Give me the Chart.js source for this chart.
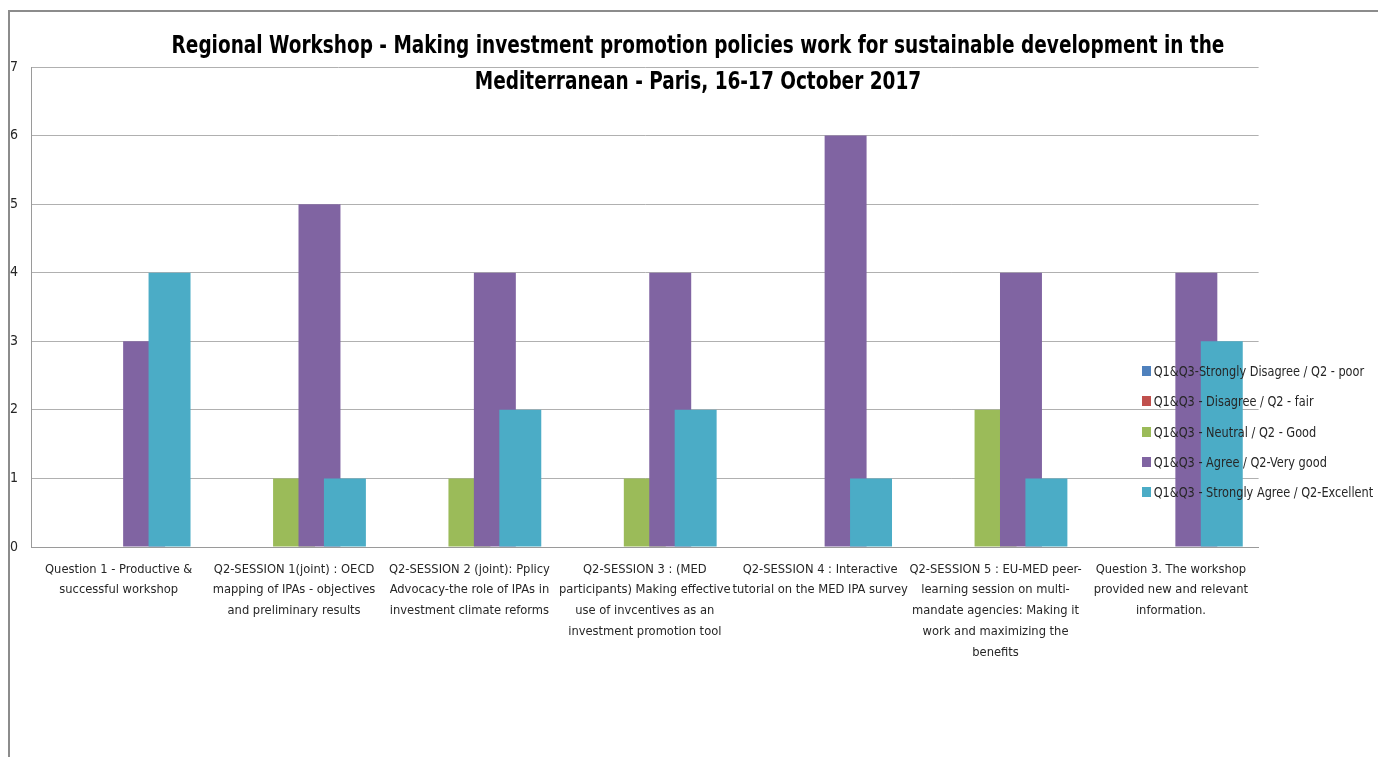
<!DOCTYPE html>
<html>
<head>
<meta charset="utf-8">
<script src="https://cdn.jsdelivr.net/npm/chart.js@4.4.1/dist/chart.umd.min.js"></script>
<style>
    html, body { margin: 0; padding: 0; background: #fff; overflow: hidden; }
    body { width: 1378px; height: 757px; position: relative; font-family: 'DejaVu Sans Condensed', 'Liberation Sans', sans-serif; }
    #frame { position: absolute; left: 8px; top: 10px; width: 1400px; height: 800px; border-left: 2px solid #8c8c8c; border-top: 2px solid #8c8c8c; }
    #chartBox { position: absolute; left: 0; top: 0; width: 1378px; height: 757px; }
    #title { position: absolute; left: 0; width: 1396px; top: 27px; text-align: center; font-weight: bold; font-size: 24px; line-height: 36px; color: #000; transform: scaleX(0.856); transform-origin: 698px 0; }
    #legend { position: absolute; left: 1142px; top: 361px; font-size: 14px; color: #262626; transform: scaleX(0.9); transform-origin: 0 0; }
    #legend div { height: 30.3px; line-height: 20px; white-space: nowrap; }
    #legend span.box { display: inline-block; width: 10px; height: 10px; margin-right: 3px; vertical-align: 0px; }
</style>
</head>
<body>
<div id="frame"></div>
<div id="chartBox"><canvas id="surveyChart" width="1378" height="757"></canvas></div>
<div id="title">Regional Workshop - Making investment promotion policies work for sustainable development in the<br>Mediterranean - Paris, 16-17 October 2017</div>
<div id="legend"></div>
<script>
// categories (already split into lines as in the picture)
const categories = [
    ['Question 1 - Productive &', 'successful workshop'],
    ['Q2-SESSION 1(joint) : OECD', 'mapping of IPAs - objectives', 'and preliminary results'],
    ['Q2-SESSION 2 (joint): Pplicy', 'Advocacy-the role of IPAs in', 'investment climate reforms'],
    ['Q2-SESSION 3 : (MED', 'participants) Making effective', 'use of invcentives as an', 'investment promotion tool'],
    ['Q2-SESSION 4 : Interactive', 'tutorial on the MED IPA survey'],
    ['Q2-SESSION 5 : EU-MED peer-', 'learning session on multi-', 'mandate agencies: Making it', 'work and maximizing the', 'benefits'],
    ['Question 3. The workshop', 'provided new and relevant', 'information.']
];

const seriesNames = [
    'Q1&Q3-Strongly Disagree / Q2 - poor',
    'Q1&Q3 - Disagree / Q2 - fair',
    'Q1&Q3 - Neutral / Q2 - Good',
    'Q1&Q3 - Agree / Q2-Very good',
    'Q1&Q3 - Strongly Agree / Q2-Excellent'
];
const seriesColors = ['#4f81bd', '#c0504d', '#9bbb59', '#8064a2', '#4bacc6'];

const stronglyDisagree = [0, 0, 0, 0, 0, 0, 0];
const disagree         = [0, 0, 0, 0, 0, 0, 0];
const neutral          = [0, 1, 1, 1, 0, 2, 0];
const agree            = [3, 5, 4, 4, 6, 4, 4];
const stronglyAgree    = [4, 1, 2, 2, 1, 1, 3];

const yTicks = [0, 1, 2, 3, 4, 5, 6, 7];

const seriesValues = [stronglyDisagree, disagree, neutral, agree, stronglyAgree];

// Excel draws later series on top of earlier ones (bars overlap)
const drawInOrder = {
    id: 'drawInOrder',
    beforeDatasetsDraw(chart) {
        const area = chart.chartArea;
        const ctx = chart.ctx;
        ctx.save();
        ctx.beginPath();
        ctx.rect(area.left, area.top, area.right - area.left, area.bottom - area.top);
        ctx.clip();
        chart.getSortedVisibleDatasetMetas().forEach(meta => meta.controller.draw());
        ctx.restore();
        return false;
    }
};

function buildLegend() {
    const legend = document.getElementById('legend');
    seriesNames.forEach((name, i) => {
        const row = document.createElement('div');
        const box = document.createElement('span');
        box.className = 'box';
        box.style.background = seriesColors[i];
        row.appendChild(box);
        row.appendChild(document.createTextNode(name));
        legend.appendChild(row);
    });
}

document.addEventListener('DOMContentLoaded', () => {
    Chart.defaults.font.family = "'DejaVu Sans Condensed', 'Liberation Sans', sans-serif";
    Chart.defaults.color = '#262626';

    const ctx = document.getElementById('surveyChart').getContext('2d');
    new Chart(ctx, {
        type: 'bar',
        data: {
            labels: categories,
            datasets: seriesValues.map((vals, i) => ({
                label: seriesNames[i],
                data: vals,
                backgroundColor: seriesColors[i],
                borderWidth: 0,
                categoryPercentage: 0.725,
                barPercentage: 1.65
            }))
        },
        options: {
            responsive: false,
            animation: false,
            layout: { padding: { left: 10, right: 119.4, top: 67, bottom: 0 } },
            plugins: {
                legend: { display: false },
                title: { display: false },
                tooltip: { enabled: false }
            },
            scales: {
                x: {
                    grid: { display: false },
                    border: { display: true, color: '#9a9a9a', width: 1 },
                    ticks: {
                        autoSkip: false,
                        maxRotation: 0,
                        padding: 4,
                        font: { size: 12.8, lineHeight: 1.62 },
                        color: '#262626'
                    },
                    afterFit(scale) { scale.height = 210; }
                },
                y: {
                    min: 0,
                    max: 7,
                    afterBuildTicks(scale) { scale.ticks = yTicks.map(v => ({ value: v })); },
                    grid: { color: '#b0b0b0', lineWidth: 1, drawTicks: false },
                    border: { display: true, color: '#9a9a9a', width: 1 },
                    ticks: {
                        crossAlign: 'far',
                        padding: 12,
                        font: { size: 14 },
                        color: '#262626'
                    },
                    afterFit(scale) { scale.width = 21; }
                }
            }
        },
        plugins: [drawInOrder]
    });

    buildLegend();
});
</script>
</body>
</html>
